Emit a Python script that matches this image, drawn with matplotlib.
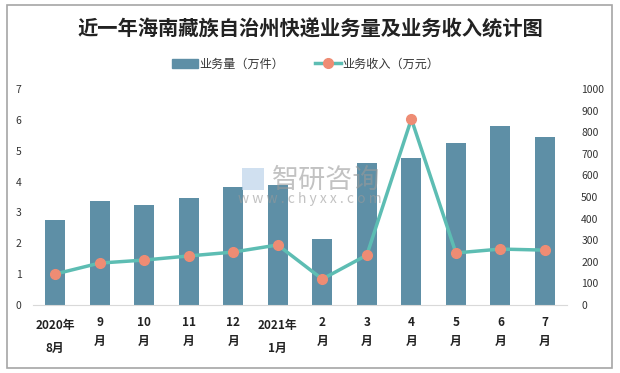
import matplotlib
matplotlib.use("Agg")
import matplotlib.pyplot as plt
from matplotlib.patches import Rectangle
from matplotlib.lines import Line2D
import matplotlib.transforms as mtransforms

plt.rcParams['font.family'] = ['Noto Sans CJK SC', 'DejaVu Sans']

categories = ["2020年\n8月", "9\n月", "10\n月", "11\n月", "12\n月", "2021年\n1月",
              "2\n月", "3\n月", "4\n月", "5\n月", "6\n月", "7\n月"]
volume = [2.74, 3.36, 3.23, 3.46, 3.81, 3.88, 2.13, 4.59, 4.75, 5.24, 5.79, 5.45]
revenue = [143, 194, 208, 227, 245, 278, 120, 231, 861, 241, 259, 254]
left_ticks = [0, 1, 2, 3, 4, 5, 6, 7]
right_ticks = [0, 100, 200, 300, 400, 500, 600, 700, 800, 900, 1000]

bar_color = "#5E8FA6"
line_color = "#5DBDB3"
marker_color = "#EE8C74"
text_color = "#333333"

fig = plt.figure(figsize=(6.2, 3.73), dpi=100)
fig.patches.append(Rectangle((6.5/620, 5/373), 605.5/620, 363/373, transform=fig.transFigure,
                             fill=False, edgecolor="#A6A6A6", linewidth=1.2))

ax = fig.add_axes([32.7/620, (373-305)/373, (567.3-32.7)/620, (305-89)/373])
x = list(range(len(categories)))
ax.bar(x, volume, width=0.45, color=bar_color, zorder=2)
ax.set_ylim(0, 7)
ax.set_xlim(-0.5, len(categories) - 0.5)
ax.set_yticks(left_ticks)
ax.set_yticklabels([str(t) for t in left_ticks], fontsize=7.5, color=text_color)
ax.set_xticks(x)
ax.set_xticklabels(categories, fontsize=8.5, fontweight='bold', color="#222222", linespacing=1.6)
ax.tick_params(axis='both', length=0)
ax.tick_params(axis='y', pad=8)
ax.tick_params(axis='x', pad=8)
for lbl in ax.get_xticklabels():
    if '年' in lbl.get_text():
        lbl.set_linespacing(1.95)
        lbl.set_transform(lbl.get_transform() +
                          mtransforms.ScaledTranslation(0, -3/100, fig.dpi_scale_trans))
for s in ['top', 'right', 'left']:
    ax.spines[s].set_visible(False)
ax.spines['bottom'].set_color("#D9D9D9")

ax2 = ax.twinx()
ax2.plot(x, revenue, color=line_color, linewidth=2.5, marker='o', markersize=7,
         markerfacecolor=marker_color, markeredgecolor=marker_color, zorder=3)
ax2.set_ylim(0, 1000)
ax2.set_yticks(right_ticks)
ax2.set_yticklabels([str(t) for t in right_ticks], fontsize=7.5, color=text_color)
ax2.tick_params(axis='y', length=0, pad=10)
for s in ['top', 'right', 'left', 'bottom']:
    ax2.spines[s].set_visible(False)

# watermark
fig.text(326.5/620, 1 - 180/373, "智研咨询", fontsize=19.5, color="#9A9A9A", alpha=0.6,
         ha='center', va='center')
fig.text(310/620, 1 - 199/373, "w w w . c h y x x . c o m", fontsize=10, color="#9A9A9A",
         alpha=0.6, ha='center', va='center')
fig.patches.append(Rectangle((242/620, 1 - 190/373), 22/620, 22/373, transform=fig.transFigure,
                             facecolor="#BCD3EA", edgecolor='none', alpha=0.7))

fig.text(310/620, 1 - 29/373, "近一年海南藏族自治州快递业务量及业务收入统计图", fontsize=14.6,
         fontweight='bold', color="#222222", ha='center', va='center')

handles = [Rectangle((0, 0), 1, 1, color=bar_color),
           Line2D([0], [0], color=line_color, linewidth=2.5, marker='o', markersize=7,
                  markerfacecolor=marker_color, markeredgecolor=marker_color)]
fig.legend(handles, ["业务量（万件）", "业务收入（万元）"], loc='center',
           bbox_to_anchor=(305.5/620, 1 - 64/373), ncol=2, frameon=False, fontsize=8.7,
           handlelength=2.2, columnspacing=2.5, handletextpad=0.1, labelcolor=text_color)

fig.savefig("out.png", dpi=100)
